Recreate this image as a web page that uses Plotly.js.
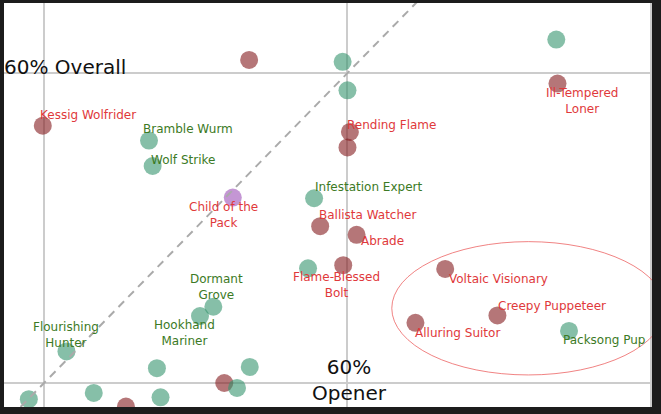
<!DOCTYPE html>
<html>
<head>
<meta charset="utf-8">
<script src="https://cdn.plot.ly/plotly-3.0.1.min.js"></script>
<style>html,body{margin:0;padding:0;background:#1c1c1c;}#chart{width:661px;height:414px;}</style>
</head>
<body>
<div id="chart"></div>
<script>
// ---- data (opener win rate, overall win rate) ----
const greenX = [0.6344, 0.5992, 0.6000, 0.5673, 0.5679, 0.5945, 0.5935, 0.5779, 0.5757, 0.5537, 0.6365, 0.5686, 0.5839, 0.5475, 0.5582, 0.5692, 0.5818];
const greenY = [0.6054, 0.6018, 0.5972, 0.5891, 0.5850, 0.5798, 0.5685, 0.5623, 0.5608, 0.5551, 0.5584, 0.5524, 0.5526, 0.5474, 0.5484, 0.5477, 0.5492];
const greenNames = ["", "", "", "Bramble Wurm", "Wolf Strike", "Infestation Expert", "", "Dormant<br>Grove", "Hookhand<br>Mariner", "Flourishing<br>Hunter", "Packsong Pup", "", "", "", "", "", ""];

const redX = [0.5838, 0.5498, 0.6346, 0.6004, 0.6000, 0.5955, 0.6015, 0.5993, 0.6161, 0.6247, 0.6112, 0.5797, 0.5635];
const redY = [0.6021, 0.5915, 0.5983, 0.5905, 0.5880, 0.5753, 0.5739, 0.5690, 0.5684, 0.5609, 0.5597, 0.5500, 0.5462];
const redNames = ["", "Kessig Wolfrider", "Ill-Tempered<br>Loner", "Rending Flame", "", "Ballista Watcher", "Abrade", "Flame-Blessed<br>Bolt", "Voltaic Visionary", "Creepy Puppeteer", "Alluring Suitor", "", ""];

const purpleX = [0.5811];
const purpleY = [0.5799];
const purpleNames = ["Child of the<br>Pack"];

const refLevel = 0.60;
const refLabelX = "60% Overall";
const refLabelY = "60%<br>Opener";

// ---- styles ----
const FONT = "DejaVu Sans";
const GREEN = "#35946e", RED = "#841b1e", PURPLE = "#9d50b7";
const GREEN_TEXT = "#3c7a25", RED_TEXT = "#e0393b";
// label offsets in pixels relative to the point (text centre)
const labelOffset = {
  "Kessig Wolfrider": [45.4, 10.4],
  "Bramble Wurm": [39.1, 11.4],
  "Wolf Strike": [30.1, 6.5],
  "Child of the<br>Pack": [-8.9, -17.6],
  "Infestation Expert": [54, 11.7],
  "Rending Flame": [41.7, 6.7],
  "Ill-Tempered<br>Loner": [24.8, -17],
  "Ballista Watcher": [47.7, 11.5],
  "Abrade": [25.6, -6.3],
  "Flame-Blessed<br>Bolt": [-6.6, -20.2],
  "Dormant<br>Grove": [3.2, 19.3],
  "Hookhand<br>Mariner": [-15.8, -16.5],
  "Flourishing<br>Hunter": [-0.7, 16.4],
  "Voltaic Visionary": [52.8, -10],
  "Creepy Puppeteer": [54.5, 9.4],
  "Alluring Suitor": [41.9, -10.6],
  "Packsong Pup": [35, -8.6]
};

function markerTrace(xs, ys, color) {
  return {
    type: "scatter", mode: "markers", x: xs, y: ys, hoverinfo: "skip",
    marker: {color: color, size: 18, opacity: 0.6, line: {width: 0}},
    showlegend: false, cliponaxis: true
  };
}

const traces = [
  markerTrace(redX, redY, RED),
  markerTrace(greenX, greenY, GREEN),
  markerTrace(purpleX, purpleY, PURPLE)
];

const annotations = [];
function addLabels(xs, ys, names, color) {
  names.forEach(function (n, i) {
    if (!n) return;
    const off = labelOffset[n] || [0, 0];
    annotations.push({
      x: xs[i], y: ys[i], xref: "x", yref: "y", text: n, showarrow: false,
      xanchor: "center", yanchor: "middle", xshift: off[0], yshift: off[1],
      font: {family: FONT, size: 12, color: color}
    });
  });
}
addLabels(greenX, greenY, greenNames, GREEN_TEXT);
addLabels(redX, redY, redNames, RED_TEXT);
addLabels(purpleX, purpleY, purpleNames, RED_TEXT);

annotations.push({
  xref: "paper", x: 0, yref: "y", y: refLevel, text: refLabelX, showarrow: false,
  xanchor: "left", yanchor: "middle", xshift: -2, yshift: 6,
  font: {family: FONT, size: 20, color: "#111"}
});
annotations.push({
  xref: "x", x: refLevel, yref: "y", y: 0.55, text: refLabelY, showarrow: false,
  xanchor: "center", yanchor: "middle", xshift: 2, yshift: 3,
  font: {family: FONT, size: 20, color: "#111"}
});

const layout = {
  width: 661, height: 414,
  margin: {l: 4, r: 9, t: 3, b: 7, pad: 0},
  paper_bgcolor: "#1c1c1c",
  plot_bgcolor: "#ffffff",
  font: {family: FONT},
  showlegend: false,
  xaxis: {range: [0.54341, 0.65017], dtick: 0.05, tick0: 0, showticklabels: false, ticks: "",
          showgrid: true, gridcolor: "#cccccc", gridwidth: 2, zeroline: false, showline: false, fixedrange: true},
  yaxis: {range: [0.54613, 0.61129], dtick: 0.05, tick0: 0, showticklabels: false, ticks: "",
          showgrid: true, gridcolor: "#cccccc", gridwidth: 2, zeroline: false, showline: false, fixedrange: true},
  shapes: [
    {type: "line", xref: "x", yref: "y", x0: 0.53, y0: 0.53, x1: 0.63, y1: 0.63,
     line: {color: "#aaaaaa", width: 2, dash: "8px,6px"}, layer: "above"},
    {type: "circle", xref: "x", yref: "y", x0: 0.6073, x1: 0.6523, y0: 0.5513, y1: 0.5728,
     line: {color: "rgba(235,90,90,0.75)", width: 1}, layer: "above"}
  ],
  annotations: annotations
};

Plotly.newPlot("chart", traces, layout, {staticPlot: true, displayModeBar: false});
</script>
</body>
</html>
